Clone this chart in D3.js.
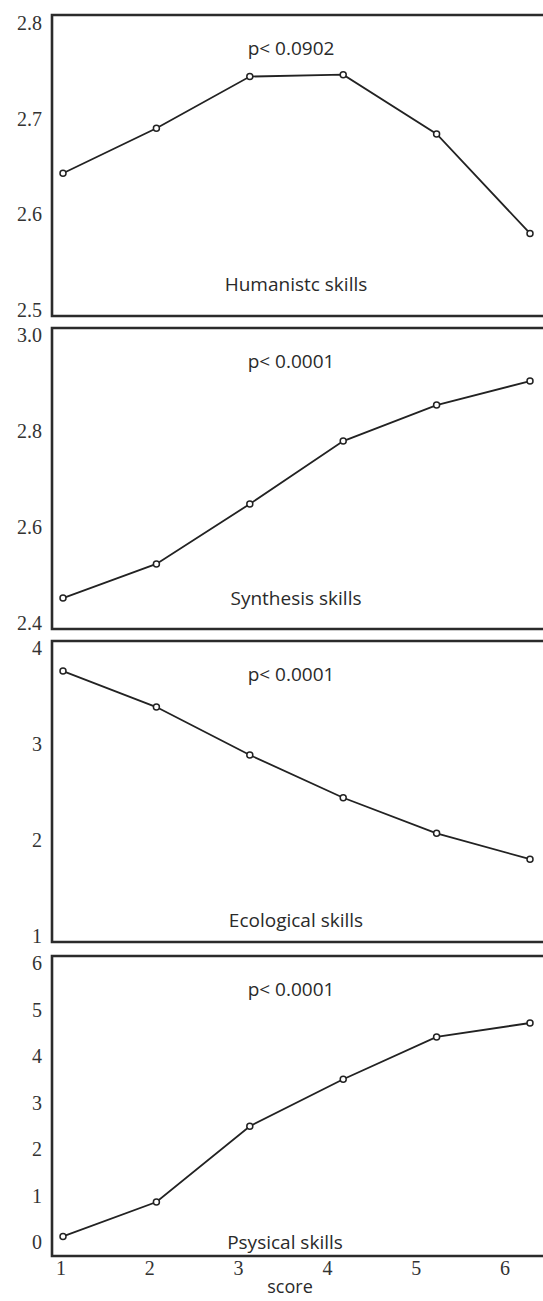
<!DOCTYPE html>
<html>
<head>
<meta charset="utf-8">
<script src="https://cdn.jsdelivr.net/npm/d3@7"></script>
<style>
body { margin: 0; background: #fff; }
.tick-lbl { font-family: "Liberation Serif", serif; font-size: 20px; fill: #333; }
.note { font-family: "Open Sans", "Noto Sans", sans-serif; font-size: 19px; fill: #2a2a2a; }
</style>
</head>
<body>
<svg class="canvas"></svg>
<script>
// data
var scores = [1, 2, 3, 4, 5, 6];
var humanistic = [2.643, 2.690, 2.744, 2.746, 2.684, 2.580];
var synthesis = [2.452, 2.523, 2.648, 2.779, 2.854, 2.904];
var ecological = [3.76, 3.385, 2.885, 2.44, 2.07, 1.8];
var physical = [0.12, 0.86, 2.49, 3.5, 4.41, 4.71];

var panelNames = ["Humanistc skills", "Synthesis skills", "Ecological skills", "Psysical skills"];
var pValues = ["p< 0.0902", "p< 0.0001", "p< 0.0001", "p< 0.0001"];
var yDomains = [[2.5, 2.8], [2.4, 3.0], [1, 4], [0, 6]];
var yTicks = [[2.5, 2.6, 2.7, 2.8], [2.4, 2.6, 2.8, 3.0], [1, 2, 3, 4], [0, 1, 2, 3, 4, 5, 6]];
var yFormats = [".1f", ".1f", "d", "d"];
var series = [humanistic, synthesis, ecological, physical];

var width = 543,
	height = 1301;

// layout of each panel: frame top/bottom, tick range, bottom label baseline
var layout = [
	{ top: 15, bottom: 316, y0: 310, y1: 23, lbl: 291 },
	{ top: 328, bottom: 629, y0: 623, y1: 335, lbl: 605 },
	{ top: 641, bottom: 942, y0: 936, y1: 648, lbl: 927 },
	{ top: 956, bottom: 1256, y0: 1242, y1: 963, lbl: 1249 }
];

var FRAME_X = 52;

var canvas = d3.select(".canvas")
	.attr("width", width)
	.attr("height", height);

// points sit on a slightly wider spacing than the axis labels
var xPts = d3.scaleLinear().domain([1, 6]).range([63, 530]);
var xLbl = d3.scaleLinear().domain([1, 6]).range([61, 505]);

var line = d3.line()
	.x(function(d, i) { return xPts(scores[i]); });

series.forEach(function(vals, k) {
	var L = layout[k];
	var y = d3.scaleLinear().domain(yDomains[k]).range([L.y0, L.y1]);
	var g = canvas.append("g").attr("class", "panel");

	// frame: top, left, bottom (right side runs off the page)
	g.append("path")
		.attr("d", "M" + (width + 5) + "," + L.top + "H" + FRAME_X + "V" + L.bottom + "H" + (width + 5))
		.attr("fill", "none")
		.attr("stroke", "#2b2b2b")
		.attr("stroke-width", 2.6);

	var fmt = d3.format(yFormats[k]);
	g.selectAll(".tick-lbl").data(yTicks[k])
		.enter().append("text")
		.attr("class", "tick-lbl")
		.attr("x", 42)
		.attr("y", function(d) { return y(d); })
		.attr("dy", ".35em")
		.attr("text-anchor", "end")
		.text(function(d) { return fmt(d); });

	g.append("path")
		.datum(vals)
		.attr("d", line.y(function(d) { return y(d); }))
		.attr("fill", "none")
		.attr("stroke", "#222")
		.attr("stroke-width", 1.8);

	g.selectAll("circle").data(vals)
		.enter().append("circle")
		.attr("cx", function(d, i) { return xPts(scores[i]); })
		.attr("cy", function(d) { return y(d); })
		.attr("r", 3)
		.attr("fill", "#fff")
		.attr("stroke", "#222")
		.attr("stroke-width", 1.5);

	g.append("text")
		.attr("class", "note")
		.attr("x", 291)
		.attr("y", L.top + 40)
		.attr("text-anchor", "middle")
		.text(pValues[k]);

	g.append("text")
		.attr("class", "note")
		.attr("x", k == 3 ? 285 : 296)
		.attr("y", L.lbl)
		.attr("text-anchor", "middle")
		.text(panelNames[k]);
});

// x axis labels under the last panel
canvas.selectAll(".x-lbl").data(scores)
	.enter().append("text")
	.attr("class", "tick-lbl")
	.attr("x", function(d) { return xLbl(d); })
	.attr("y", 1275)
	.attr("text-anchor", "middle")
	.text(function(d) { return d; });

canvas.append("text")
	.attr("class", "note")
	.attr("x", 290)
	.attr("y", 1293)
	.style("font-size", "18px")
	.attr("text-anchor", "middle")
	.text("score");
</script>
</body>
</html>
